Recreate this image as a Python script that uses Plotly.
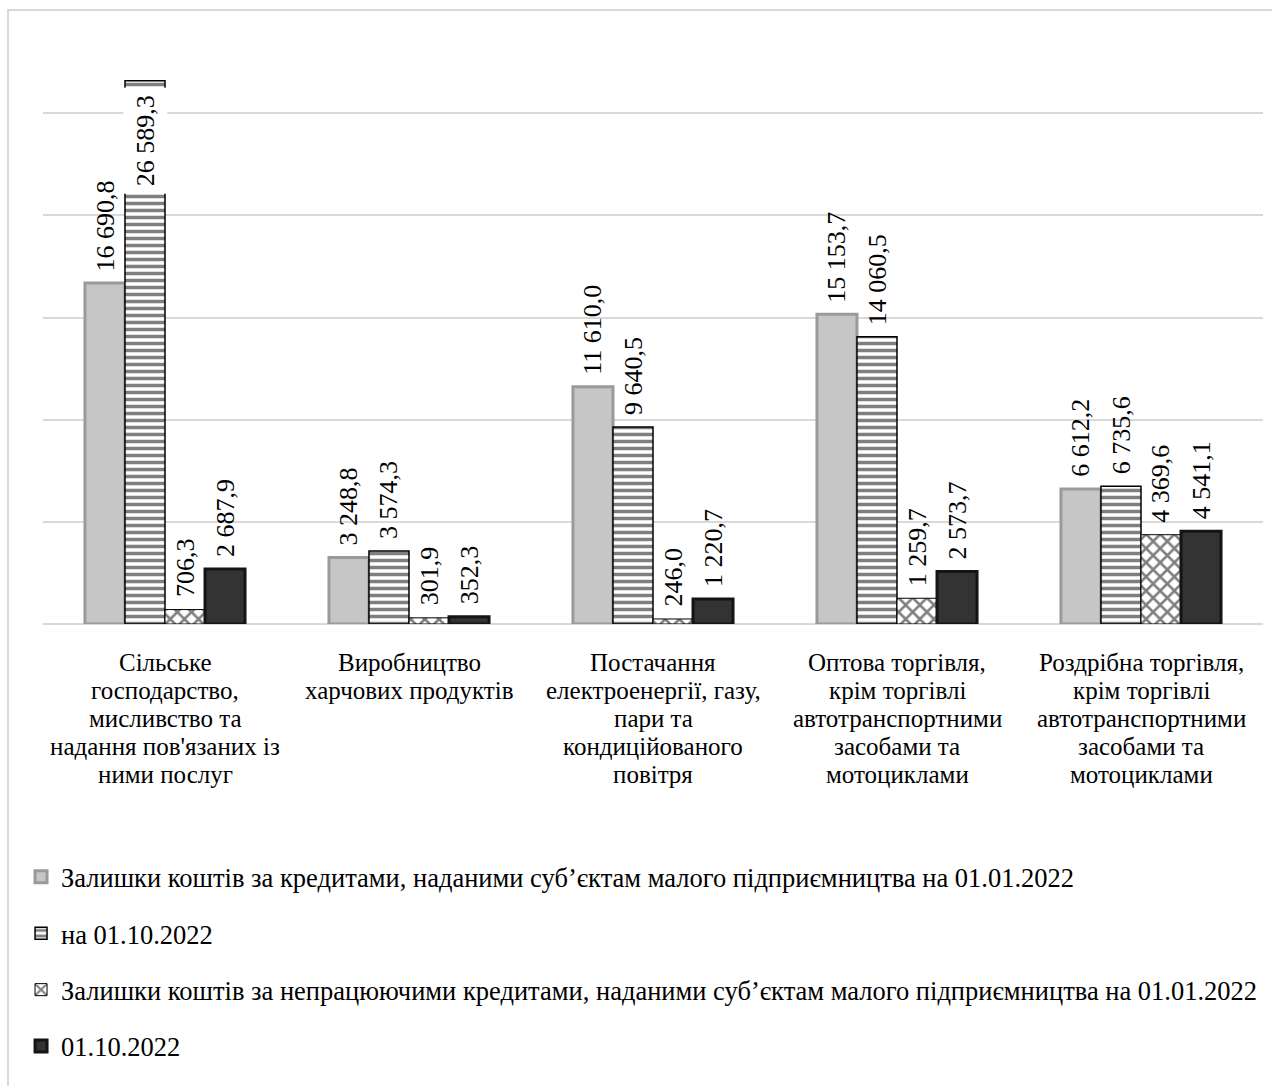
import plotly.graph_objects as go

# Categories (types of economic activity), one list entry per text line
categories = [
    ["Сільське", "господарство,", "мисливство та", "надання пов'язаних із", "ними послуг"],
    ["Виробництво", "харчових продуктів"],
    ["Постачання", "електроенергії, газу,", "пари та", "кондиційованого", "повітря"],
    ["Оптова торгівля,", "крім торгівлі", "автотранспортними", "засобами та", "мотоциклами"],
    ["Роздрібна торгівля,", "крім торгівлі", "автотранспортними", "засобами та", "мотоциклами"],
]

series_names = [
    "Залишки коштів за кредитами, наданими суб’єктам малого підприємництва на 01.01.2022",
    "на 01.10.2022",
    "Залишки коштів за непрацюючими кредитами, наданими суб’єктам малого підприємництва на 01.01.2022",
    "01.10.2022",
]

loans_2022_01 = [16690.8, 3248.8, 11610.0, 15153.7, 6612.2]
loans_2022_10 = [26589.3, 3574.3, 9640.5, 14060.5, 6735.6]
npl_2022_01 = [706.3, 301.9, 246.0, 1259.7, 4369.6]
npl_2022_10 = [2687.9, 352.3, 1220.7, 2573.7, 4541.1]

series_values = [loans_2022_01, loans_2022_10, npl_2022_01, npl_2022_10]

FONT = "Liberation Serif"
LABEL_SIZE = 26
CAT_SIZE = 25
LEGEND_SIZE = 26.5
BARGAP = 0.344


def fmt(v):
    return f"{v:,.1f}".replace(",", " ").replace(".", ",")


styles = [
    dict(color="#c6c6c6", line=dict(color="#9a9a9a", width=3)),
    dict(color="white", line=dict(color="black", width=1.5),
         pattern=dict(shape="-", fgcolor="black", bgcolor="white", size=7, solidity=0.5)),
    dict(color="white", line=dict(color="black", width=1),
         pattern=dict(shape="x", fgcolor="black", bgcolor="white", size=10, solidity=0.45)),
    dict(color="#333333", line=dict(color="#141414", width=3)),
]

x = list(range(len(categories)))
fig = go.Figure()
for k, (name, vals, st) in enumerate(zip(series_names, series_values, styles)):
    fig.add_trace(go.Bar(
        x=x, y=vals, name=name, marker=st,
        legendgroup=f"g{k}", hoverinfo="skip",
    ))

# Value labels, rotated, above each bar
w = (1 - BARGAP) / len(series_values)
annotations = []
top_value = max(max(v) for v in series_values)
for k, vals in enumerate(series_values):
    off = (k - (len(series_values) - 1) / 2) * w
    for i, v in enumerate(vals):
        if v == top_value:
            annotations.append(dict(
                x=i + off, y=v, text=fmt(v), textangle=-90, showarrow=False,
                xanchor="center", yanchor="top", yshift=-6, borderpad=7,
                bgcolor="white", font=dict(family=FONT, size=LABEL_SIZE, color="black"),
            ))
        else:
            annotations.append(dict(
                x=i + off, y=v, text=fmt(v), textangle=-90, showarrow=False,
                xanchor="center", yanchor="bottom", yshift=10,
                font=dict(family=FONT, size=LABEL_SIZE, color="black"),
            ))

# Category captions under each group, line by line
for i, lines in enumerate(categories):
    for j, line in enumerate(lines):
        annotations.append(dict(
            x=i, y=0, text=line, showarrow=False, borderpad=0,
            xanchor="center", yanchor="middle", yshift=-(38 + 28.2 * j),
            font=dict(family=FONT, size=CAT_SIZE, color="black"),
        ))

fig.update_layout(
    width=1272, height=1086,
    margin=dict(l=43, r=9, t=11, b=462, autoexpand=False),
    paper_bgcolor="white", plot_bgcolor="white",
    barmode="group", bargap=BARGAP, bargroupgap=0,
    font=dict(family=FONT, size=LEGEND_SIZE, color="black"),
    annotations=annotations,
    xaxis=dict(
        range=[-0.5, len(categories) - 0.5],
        showticklabels=False, showgrid=False, showline=False, ticks="",
    ),
    yaxis=dict(
        range=[0, 30000], dtick=5000, showticklabels=False,
        showgrid=True, gridcolor="#d9d9d9", gridwidth=1.5,
        zeroline=True, zerolinecolor="#d9d9d9", zerolinewidth=1.5,
        showline=False, ticks="",
    ),
    legend=dict(
        orientation="v", x=-0.018, xanchor="left", y=-0.3736, yanchor="top",
        traceorder="grouped", tracegroupgap=19,
        font=dict(family=FONT, size=LEGEND_SIZE, color="black"),
        itemwidth=30, bgcolor="rgba(0,0,0,0)",
    ),
    shapes=[dict(
        type="rect", xref="paper", yref="paper",
        x0=-35 / 1220, x1=1.02, y0=-0.8, y1=1.0016,
        line=dict(color="#d9d9d9", width=2), fillcolor="rgba(0,0,0,0)",
        layer="below",
    )],
)

fig.write_html("out.html")
